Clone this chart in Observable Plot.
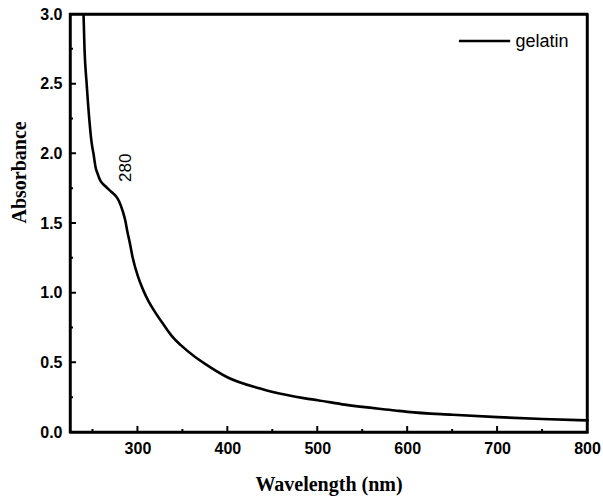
<!DOCTYPE html>
<html>
<head>
<meta charset="utf-8">
<script src="https://cdn.jsdelivr.net/npm/d3@7"></script>
<script src="https://cdn.jsdelivr.net/npm/@observablehq/plot@0.6"></script>
<style>
  html, body { margin: 0; padding: 0; background: #fff; }
</style>
</head>
<body>
<div id="chart"></div>
<script>
// Data
const wavelength = [239.5, 240.6, 243, 246, 248.5, 250.6, 253, 255, 258, 261, 265, 270, 275, 279, 283, 286, 288, 291, 294, 300, 306, 312, 318, 329, 338, 348, 364, 373, 400, 436, 450, 486, 500, 530, 586, 600, 650, 700, 750, 800];
const absorbance = [3.0, 2.75, 2.5, 2.24, 2.08, 2.0, 1.90, 1.86, 1.81, 1.785, 1.76, 1.73, 1.70, 1.66, 1.59, 1.52, 1.45, 1.36, 1.26, 1.12, 1.02, 0.94, 0.875, 0.77, 0.69, 0.625, 0.54, 0.50, 0.395, 0.315, 0.29, 0.245, 0.232, 0.2, 0.158, 0.148, 0.127, 0.11, 0.097, 0.087];
const seriesName = "gelatin";
const xMajorTicks = [300, 400, 500, 600, 700, 800];
const xMinorTicks = [250, 350, 450, 550, 650, 750];
const yMajorTicks = [0, 0.5, 1.0, 1.5, 2.0, 2.5, 3.0];
const yMinorTicks = [0.25, 0.75, 1.25, 1.75, 2.25, 2.75];
const peakLabel = "280";
const peakWavelength = 286;
const peakLabelY = 1.90;

const data = wavelength.map((w, i) => ({w, a: absorbance[i]}));

const W = 603, H = 499;
const mL = 70, mR = 16, mT = 14, mB = 67;
const xDomain = [225, 800];
const yDomain = [0, 3];

const chart = Plot.plot({
  width: W,
  height: H,
  marginLeft: mL,
  marginRight: mR,
  marginTop: mT,
  marginBottom: mB,
  style: {fontFamily: "'Liberation Sans', Arial, sans-serif", background: "#fff", color: "#000"},
  x: {domain: xDomain},
  y: {domain: yDomain},
  marks: [
    Plot.axisX({ticks: xMajorTicks, tickSize: 0, tickPadding: 10, fontSize: 16, fontWeight: "bold", label: null, tickFormat: d => String(d)}),
    Plot.axisY({ticks: yMajorTicks, tickSize: 0, tickPadding: 8, fontSize: 16, fontWeight: "bold", label: null, tickFormat: d => d.toFixed(1)}),
    Plot.text(["Wavelength (nm)"], {frameAnchor: "bottom", dy: 58, fontSize: 20, fontWeight: "bold", fontFamily: "'Liberation Serif', 'Times New Roman', serif", fill: "#000"}),
    Plot.text(["Absorbance"], {frameAnchor: "left", dx: -51, rotate: -90, fontSize: 20, fontWeight: "bold", fontFamily: "'Liberation Serif', 'Times New Roman', serif", fill: "#000"}),
    Plot.line(data, {x: "w", y: "a", stroke: "#000", strokeWidth: 2.6, curve: "monotone-x"}),
    Plot.text([peakLabel], {x: () => peakWavelength, y: () => peakLabelY, rotate: -90, fontSize: 17, fill: "#000"}),
    Plot.link([seriesName], {x1: () => 657, x2: () => 714, y1: () => 2.81, y2: () => 2.81, stroke: "#000", strokeWidth: 2.6}),
    Plot.text([seriesName], {x: () => 720, y: () => 2.81, textAnchor: "start", fontSize: 18, fill: "#000"}),
    Plot.frame({stroke: "#000", strokeWidth: 2.4})
  ]
});
document.getElementById("chart").appendChild(chart);

// Frame and inward ticks, positioned through Plot's own scales
const sx = chart.scale("x"), sy = chart.scale("y");
const X = v => sx.apply(v), Y = v => sy.apply(v);
const g = d3.select(chart).append("g")
  .attr("stroke", "#000").attr("fill", "none").attr("stroke-linecap", "square");
const x0 = X(xDomain[0]), x1 = X(xDomain[1]), y0 = Y(yDomain[0]), y1 = Y(yDomain[1]);
g.append("path").attr("stroke-width", 2.4)
  .attr("d", `M${x0},${y0}H${x1}V${y1}H${x0}Z`);
const tickPath = [
  ...xMajorTicks.map(v => `M${X(v)},${y0}v-6`),
  ...xMinorTicks.map(v => `M${X(v)},${y0}v-3`),
  ...yMajorTicks.map(v => `M${x0},${Y(v)}h6`),
  ...yMinorTicks.map(v => `M${x0},${Y(v)}h3`)
].join("");
g.append("path").attr("stroke-width", 2).attr("stroke-linecap", "butt").attr("d", tickPath);
</script>
</body>
</html>
